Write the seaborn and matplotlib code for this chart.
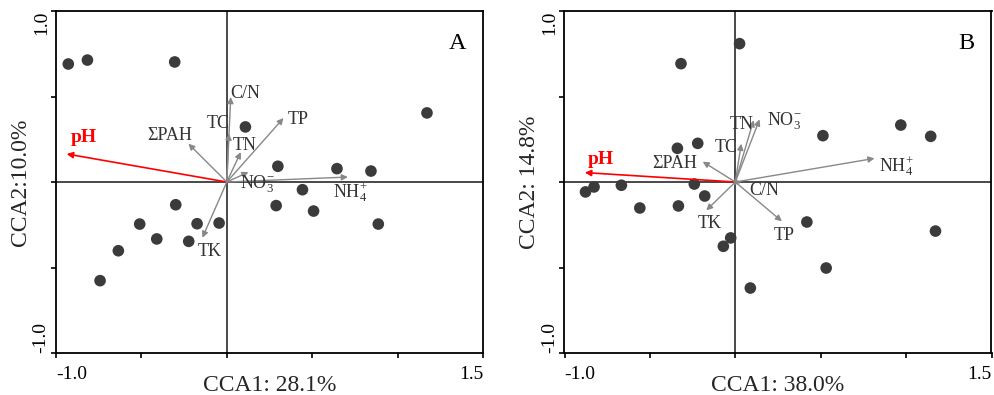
import matplotlib
matplotlib.use("Agg")
import matplotlib.pyplot as plt
import seaborn as sns
import pandas as pd

# ---------------- data ----------------
# Panel A sample scores
a_x = [-0.928, -0.816, -0.305, 1.172, 0.109, 0.299, 0.645, 0.844, 0.443, 0.289,
       0.508, 0.887, -0.299, -0.510, -0.174, -0.045, -0.410, -0.223, -0.635, -0.742]
a_y = [0.690, 0.713, 0.702, 0.404, 0.322, 0.092, 0.078, 0.064, -0.045, -0.138,
       -0.170, -0.246, -0.133, -0.246, -0.244, -0.240, -0.333, -0.347, -0.402, -0.577]
# Panel A environmental vectors
a_env = ["pH", "ΣPAH", "TC", "C/N", "TN", "TP", "NO3", "NH4", "TK"]
a_env_x = [-0.9375, -0.225, 0.012, 0.023, 0.082, 0.332, 0.127, 0.709, -0.143]
a_env_y = [0.164, 0.224, 0.283, 0.497, 0.175, 0.374, 0.058, 0.029, -0.326]

# Panel B sample scores
b_x = [0.025, -0.318, 0.969, 0.513, 1.144, -0.220, -0.339, -0.877, -0.827, -0.667,
       -0.240, -0.179, -0.559, -0.333, 0.419, 1.172, -0.027, -0.070, 0.532, 0.088]
b_y = [0.809, 0.692, 0.333, 0.271, 0.267, 0.226, 0.197, -0.058, -0.029, -0.019,
       -0.012, -0.082, -0.152, -0.140, -0.234, -0.287, -0.327, -0.376, -0.503, -0.620]
# Panel B environmental vectors
b_env = ["pH", "ΣPAH", "TC", "TN", "NO3", "NH4", "C/N", "TP", "TK"]
b_env_x = [-0.881, -0.191, 0.035, 0.107, 0.142, 0.815, 0.035, 0.273, -0.170]
b_env_y = [0.055, 0.119, 0.224, 0.361, 0.366, 0.138, -0.004, -0.230, -0.166]

x_ticks = [-1.0, -0.5, 0.0, 0.5, 1.0, 1.5]
x_ticklabels = ["-1.0", "", "", "", "", "1.5"]
y_ticks = [-1.0, -0.5, 0.0, 0.5, 1.0]
y_ticklabels = ["-1.0", "", "", "", "1.0"]

panel_letters = ["A", "B"]
x_titles = ["CCA1: 28.1%", "CCA1: 38.0%"]
y_titles = ["CCA2:10.0%", "CCA2: 14.8%"]

# label text & placement (layout, not data)
display = {"pH": "pH", "ΣPAH": "ΣPAH", "TC": "TC", "C/N": "C/N", "TN": "TN",
           "TP": "TP", "NO3": r"NO$_3^{-}$", "NH4": r"NH$_4^{+}$", "TK": "TK"}
a_label_pos = {"pH": (-0.836, 0.263), "ΣPAH": (-0.332, 0.273), "TC": (-0.049, 0.341),
               "C/N": (0.107, 0.515), "TN": (0.107, 0.214), "TP": (0.416, 0.368),
               "NO3": (0.176, -0.016), "NH4": (0.723, -0.062), "TK": (-0.098, -0.409)}
b_label_pos = {"pH": (-0.789, 0.131), "ΣPAH": (-0.353, 0.111), "TC": (-0.051, 0.203),
               "TN": (0.035, 0.337), "NO3": (0.288, 0.357), "NH4": (0.945, 0.094),
               "C/N": (0.168, -0.047), "TP": (0.288, -0.312), "TK": (-0.152, -0.242)}

# ---------------- style ----------------
sns.set_theme(style="ticks")
plt.rcParams["font.family"] = ["Liberation Serif", "DejaVu Serif"]
plt.rcParams["mathtext.fontset"] = "custom"
plt.rcParams["mathtext.rm"] = "Liberation Serif"
plt.rcParams["mathtext.it"] = "Liberation Serif:italic"
plt.rcParams["mathtext.bf"] = "Liberation Serif:bold"

fig = plt.figure(figsize=(9.95, 3.95), dpi=100)
ax_a = fig.add_axes([56 / 995, 42 / 395, 427 / 995, 342 / 395])
ax_b = fig.add_axes([564.5 / 995, 42 / 395, 427 / 995, 342 / 395])

panels = [
    (ax_a, a_x, a_y, a_env, a_env_x, a_env_y, a_label_pos),
    (ax_b, b_x, b_y, b_env, b_env_x, b_env_y, b_label_pos),
]

for i, (ax, px, py, env, ex, ey, lpos) in enumerate(panels):
    ax.axhline(0, color="#3a3a3a", lw=1.3, zorder=1)
    ax.axvline(0, color="#3a3a3a", lw=1.3, zorder=1)
    df = pd.DataFrame({"x": px, "y": py})
    sns.scatterplot(data=df, x="x", y="y", ax=ax, color="#3b3b3b", s=70,
                    edgecolor="none", zorder=3)
    for name, vx, vy in zip(env, ex, ey):
        is_ph = name == "pH"
        col = "#ff0000" if is_ph else "#888888"
        ax.annotate("", xy=(vx, vy), xytext=(0, 0),
                    arrowprops=dict(arrowstyle="-|>", color=col, lw=1.2 if is_ph else 1.0,
                                    mutation_scale=9, shrinkA=0, shrinkB=0),
                    zorder=4)
        tx, ty = lpos[name]
        ax.text(tx, ty, display[name], ha="center", va="center",
                fontsize=14 if is_ph else 13,
                color="#ff0000" if is_ph else "#333333",
                fontweight="bold" if is_ph else "normal", zorder=5)
    ax.text(0.94, 0.905, panel_letters[i], transform=ax.transAxes, fontsize=17.5,
            ha="center", va="center", color="black")

    ax.set_xlim(-1.0, 1.5)
    ax.set_ylim(-1.0, 1.0)
    ax.set_xticks(x_ticks)
    ax.set_xticklabels(x_ticklabels, fontsize=14)
    ax.set_yticks(y_ticks)
    ax.set_yticklabels(y_ticklabels, fontsize=14, rotation=90, va="center")
    xl = ax.get_xticklabels()
    xl[0].set_ha("left")
    xl[-1].set_ha("right")
    yl = ax.get_yticklabels()
    yl[0].set_va("bottom")
    yl[-1].set_va("top")
    ax.tick_params(direction="out", length=3.5, width=1.2, colors="black")
    ax.tick_params(axis="x", pad=6)
    ax.tick_params(axis="y", pad=1)
    ax.set_xlabel(x_titles[i], fontsize=17, labelpad=-6)
    ax.set_ylabel(y_titles[i], fontsize=17, labelpad=1)
    for sp in ax.spines.values():
        sp.set_visible(True)
        sp.set_color("black")
        sp.set_linewidth(1.3)

fig.savefig("out.png", dpi=100)
